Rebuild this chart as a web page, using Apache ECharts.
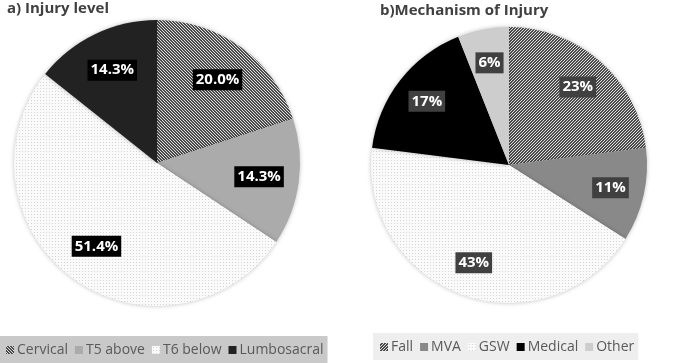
<!DOCTYPE html>
<html>
<head>
<meta charset="utf-8">
<script src="https://cdn.jsdelivr.net/npm/echarts@6/dist/echarts.min.js"></script>
<style>
  html, body { margin: 0; padding: 0; background: #fff; }
  #chart { width: 674px; height: 363px; }
</style>
</head>
<body>
<div id="chart"></div>
<script>
// 数据
const levelNames = ['Cervical', 'T5 above', 'T6 below', 'Lumbosacral'];
const levelValues = [20.0, 14.3, 51.4, 14.3];
const mechNames = ['Fall', 'MVA', 'GSW', 'Medical', 'Other'];
const mechValues = [23, 11, 43, 17, 6];

// 填充图案 (hatch / dots)
function hatch(dir, dark, light) {
  const c = document.createElement('canvas');
  c.width = 3; c.height = 3;
  const ctx = c.getContext('2d');
  for (let x = 0; x < 3; x++) {
    for (let y = 0; y < 3; y++) {
      const k = dir === '\\' ? (x - y + 6) % 3 : (x + y) % 3;
      ctx.fillStyle = k === 0 ? light : dark;
      ctx.fillRect(x, y, 1, 1);
    }
  }
  return { image: c, repeat: 'repeat' };
}
function dots() {
  const c = document.createElement('canvas');
  c.width = 3; c.height = 3;
  const ctx = c.getContext('2d');
  ctx.fillStyle = '#fafafa';
  ctx.fillRect(0, 0, 3, 3);
  ctx.fillStyle = '#d4d4d4';
  ctx.fillRect(1, 1, 1, 1);
  return { image: c, repeat: 'repeat' };
}

const levelColors = [hatch('\\', '#4a4a4a', '#e0e0e0'), '#ababab', dots(), '#222222'];
const mechColors = [hatch('/', '#4a4a4a', '#e0e0e0'), '#898989', dots(), '#000000', '#cdcdcd'];

const font = '"Open Sans", "Noto Sans", sans-serif';

function pieData(names, values, colors) {
  return names.map((n, i) => ({ name: n, value: values[i], itemStyle: { color: colors[i] } }));
}
function labelData(names, values) {
  return names.map((n, i) => ({ name: n, value: values[i] }));
}

const chart = echarts.init(document.getElementById('chart'));

chart.setOption({
  animation: false,
  title: [
    { text: 'a) Injury level', left: 2, top: -4,
      textStyle: { fontFamily: font, fontSize: 15, fontWeight: 'bold', color: '#404040' } },
    { text: 'b)Mechanism of Injury', left: 375, top: -2,
      textStyle: { fontFamily: font, fontSize: 15, fontWeight: 'bold', color: '#404040' } }
  ],
  legend: [
    { data: levelNames, left: 0, top: 336, width: 330,
      padding: [7, 4, 7, 6], itemGap: 7, itemWidth: 8, itemHeight: 8,
      backgroundColor: '#c9c9c9', icon: 'rect',
      textStyle: { fontFamily: font, fontSize: 14, color: '#595959', padding: [0, 0, 0, -2] } },
    { data: mechNames, left: 373, top: 333, width: 301,
      padding: [7, 4, 6, 7], itemGap: 7, itemWidth: 8, itemHeight: 8,
      backgroundColor: '#eeeeee', icon: 'rect',
      textStyle: { fontFamily: font, fontSize: 14, color: '#595959', padding: [0, 0, 0, -2] } }
  ],
  series: [
    { type: 'pie', center: [157, 163], radius: [0, 143], startAngle: 90, clockwise: true,
      label: { show: false }, labelLine: { show: false }, silent: true,
      itemStyle: { shadowBlur: 4, shadowColor: 'rgba(0,0,0,0.25)' },
      data: pieData(levelNames, levelValues, levelColors) },
    { type: 'pie', center: [509, 165], radius: [0, 138], startAngle: 90, clockwise: true,
      label: { show: false }, labelLine: { show: false }, silent: true,
      itemStyle: { shadowBlur: 4, shadowColor: 'rgba(0,0,0,0.25)' },
      data: pieData(mechNames, mechValues, mechColors) },
    // 标签层
    { type: 'pie', center: [157, 163], radius: [57, 143], startAngle: 90, silent: true,
      itemStyle: { color: 'rgba(0,0,0,0)' }, legendHoverLink: false,
      label: { show: true, position: 'inside', formatter: p => p.value.toFixed(1) + '%',
        fontFamily: font, fontSize: 15, fontWeight: 'bold', color: '#fff',
        backgroundColor: '#000', padding: [4, 3, 2, 3] },
      data: labelData(levelNames, levelValues) },
    { type: 'pie', center: [509, 165], radius: [64, 138], startAngle: 90, silent: true,
      itemStyle: { color: 'rgba(0,0,0,0)' }, legendHoverLink: false,
      label: { show: true, position: 'inside', formatter: p => p.value + '%',
        fontFamily: font, fontSize: 15, fontWeight: 'bold', color: '#fff',
        backgroundColor: '#404040', padding: [4, 3, 2, 3] },
      data: labelData(mechNames, mechValues) }
  ]
});
</script>
</body>
</html>
